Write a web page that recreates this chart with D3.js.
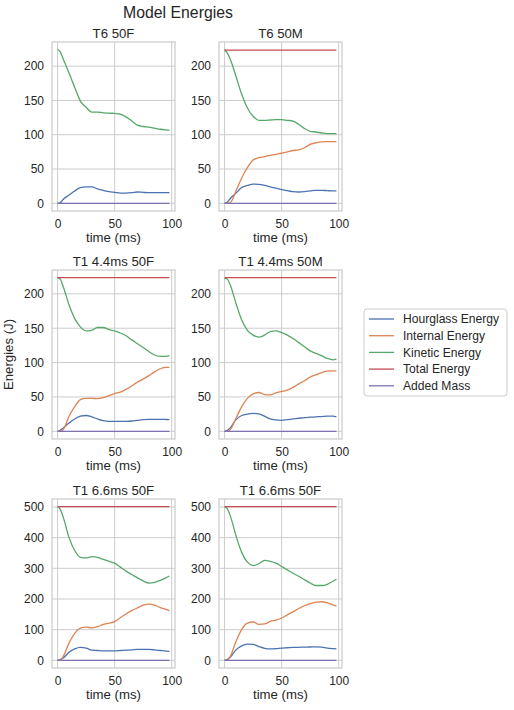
<!DOCTYPE html>
<html>
<head>
<meta charset="utf-8">
<script src="https://cdn.jsdelivr.net/npm/d3@7"></script>
<style>
  body { margin: 0; background: #fff; }
  text { font-family: "Liberation Sans", Arial, sans-serif; fill: #262626; }
</style>
</head>
<body>
<div id="chart"></div>
<script>
// sample times (ms), shared by every run
const time = [0, 2, 5, 10, 15, 20, 25, 30, 35, 40, 45, 50, 55, 60, 65, 70, 75, 80, 85, 90, 95, 98];

const seriesNames = ["Hourglass Energy", "Internal Energy", "Kinetic Energy", "Total Energy", "Added Mass"];
const seriesColors = ["#4c72b0", "#dd8452", "#55a868", "#c44e52", "#8172b3"];

const panelTitles = ["T6 50F", "T6 50M", "T1 4.4ms 50F", "T1 4.4ms 50M", "T1 6.6ms 50F", "T1 6.6ms 50F"];

const xTicks = [0, 50, 100];
const yTicksLow = [0, 50, 100, 150, 200];
const yTicksHigh = [0, 100, 200, 300, 400, 500];

// T6 50F (no internal / total energy recorded)
const t6f_hourglass = [0, 0.5, 6, 12, 18, 23, 24, 24, 21, 19, 17, 16, 15, 15, 15.5, 16.5, 16, 15.5, 15.5, 15.5, 15.5, 15.5];
const t6f_internal = null;
const t6f_kinetic = [224, 222, 210, 190, 169, 149, 140, 133, 133, 132, 131.5, 131, 130, 126, 120, 114, 112, 111, 109.5, 108, 107, 106.5];
const t6f_total = null;
const t6f_added = time.map(() => 0);

// T6 50M
const t6m_hourglass = [0, 1, 7, 15, 23, 26, 28, 27.5, 26, 24, 22, 20, 18.5, 17, 16.5, 17, 18, 19, 19, 18.5, 18, 18];
const t6m_internal = [0, 0, 1, 18, 37, 52, 63, 66.5, 68, 70, 71.5, 73, 75, 77, 78, 81, 86, 88, 89.5, 90, 90, 90];
const t6m_kinetic = [224, 220, 210, 185, 159, 139, 127, 121, 121, 121.5, 122, 122, 121, 120, 115, 109, 105, 104, 102.5, 101.5, 101.5, 101.5];
const t6m_total = time.map(() => 223.5);
const t6m_added = time.map(() => 0);

// T1 4.4ms 50F
const t144f_hourglass = [0, 1, 5, 12, 18, 22, 23, 21, 18, 15.5, 14.5, 14.5, 14.5, 14.5, 15, 16, 17, 17.5, 17.5, 17.5, 17.2, 17];
const t144f_internal = [0, 0, 2.5, 22, 36, 46, 48, 48, 47.5, 49, 52, 55, 57, 61, 66, 71.5, 76, 81, 86.5, 91, 93, 93];
const t144f_kinetic = [223, 222, 210, 184, 164, 152, 146, 147, 151, 151, 148, 146, 143, 139, 133, 127.5, 122, 116, 111, 109, 109, 110];
const t144f_total = time.map(() => 223.5);
const t144f_added = time.map(() => 0);

// T1 4.4ms 50M
const t144m_hourglass = [0, 1, 5, 17, 23, 25, 26, 25.5, 22, 18, 16.5, 16, 17, 18, 19, 20, 20.5, 21, 21.5, 22, 22, 21];
const t144m_internal = [0, 0, 2.5, 19, 36, 48, 54.5, 56.5, 53.5, 53, 56, 58, 60, 64, 69, 73.5, 79, 82, 85.5, 87.5, 88, 88];
const t144m_kinetic = [223, 222, 213, 186, 162, 147, 140, 137, 140, 145, 146, 143.5, 140, 135, 129, 123, 117, 113.5, 110, 106, 104, 105];
const t144m_total = time.map(() => 223.5);
const t144m_added = time.map(() => 0);

// T1 6.6ms 50F (first)
const t166a_hourglass = [0, 2, 7.5, 26, 37, 42, 40, 33, 32, 31, 31, 31, 32, 33, 34, 35.5, 35.5, 35.5, 34, 32, 30, 29];
const t166a_internal = [0, 0, 13, 56, 88, 105, 108, 106, 110, 117, 121, 126, 139, 151, 162, 171, 180, 183, 180, 172, 166, 162];
const t166a_kinetic = [500, 495, 466, 401, 358, 336, 334, 338, 336, 329, 323, 317, 304, 291, 280, 269, 259, 252, 254, 261, 269, 275];
const t166a_total = time.map(() => 501);
const t166a_added = time.map(() => 0);

// T1 6.6ms 50F (second)
const t166b_hourglass = [0, 2, 10, 34, 47, 53, 52, 45, 39, 37, 38, 40, 41, 42, 42.5, 43, 43.5, 44, 43, 40, 38, 37];
const t166b_internal = [0, 0, 13, 61, 101, 121, 125, 117, 118.5, 127, 131, 138, 148, 158, 169, 178, 185, 190, 191, 187.5, 181, 177];
const t166b_kinetic = [500, 496, 471, 406, 352, 320, 309, 315, 326, 323, 317, 306, 295, 284, 274, 263, 252, 244, 244, 248, 258, 264];
const t166b_total = time.map(() => 501);
const t166b_added = time.map(() => 0);

const panelSeries = [
  [t6f_hourglass, t6f_internal, t6f_kinetic, t6f_total, t6f_added],
  [t6m_hourglass, t6m_internal, t6m_kinetic, t6m_total, t6m_added],
  [t144f_hourglass, t144f_internal, t144f_kinetic, t144f_total, t144f_added],
  [t144m_hourglass, t144m_internal, t144m_kinetic, t144m_total, t144m_added],
  [t166a_hourglass, t166a_internal, t166a_kinetic, t166a_total, t166a_added],
  [t166b_hourglass, t166b_internal, t166b_kinetic, t166b_total, t166b_added]
];
const panelYTicks = [yTicksLow, yTicksLow, yTicksLow, yTicksLow, yTicksHigh, yTicksHigh];

const width = 514;
const height = 710;
const colX = [52, 219];
const rowY = [42, 270, 499];
const aw = 123;
const ah = 169;

const svg = d3.select("#chart").append("svg")
  .attr("width", width).attr("height", height);
svg.append("rect").attr("width", width).attr("height", height).attr("fill", "#fff");

// matplotlib style 5% margins around the data
function padded(lo, hi) {
  const m = (hi - lo) * 0.05;
  return [lo - m, hi + m];
}

const x = d3.scaleLinear()
  .domain(padded(d3.min(time), d3.max(time)))
  .range([0, aw]);

panelSeries.forEach((series, i) => {
  const left = colX[i % 2];
  const top = rowY[Math.floor(i / 2)];
  const present = series.filter(s => s);
  const y = d3.scaleLinear()
    .domain(padded(d3.min(present, s => d3.min(s)), d3.max(present, s => d3.max(s))))
    .range([ah, 0]);

  const g = svg.append("g").attr("transform", `translate(${left},${top})`);

  // grid
  g.selectAll(".gx").data(xTicks).join("line")
    .attr("x1", d => x(d)).attr("x2", d => x(d))
    .attr("y1", 0).attr("y2", ah)
    .attr("stroke", "#cccccc").attr("stroke-width", 1);
  g.selectAll(".gy").data(panelYTicks[i]).join("line")
    .attr("x1", 0).attr("x2", aw)
    .attr("y1", d => y(d)).attr("y2", d => y(d))
    .attr("stroke", "#cccccc").attr("stroke-width", 1);

  const line = d3.line()
    .x((d, k) => x(time[k]))
    .y(d => y(d))
    .curve(d3.curveMonotoneX);

  series.forEach((s, k) => {
    if (!s) return;
    g.append("path")
      .attr("d", line(s))
      .attr("fill", "none")
      .attr("stroke", seriesColors[k])
      .attr("stroke-width", 1.3);
  });

  // frame
  g.append("rect")
    .attr("width", aw).attr("height", ah)
    .attr("fill", "none").attr("stroke", "#cccccc").attr("stroke-width", 1.25);

  const ya = g.append("g")
    .call(d3.axisLeft(y).tickValues(panelYTicks[i]).tickSize(0).tickPadding(8));
  const xa = g.append("g").attr("transform", `translate(0,${ah})`)
    .call(d3.axisBottom(x).tickValues(xTicks).tickSize(0).tickPadding(8));
  [ya, xa].forEach(a => {
    a.select(".domain").remove();
    a.selectAll("text").attr("font-size", 12)
      .attr("font-family", "Liberation Sans, Arial, sans-serif").attr("fill", "#262626");
  });

  g.append("text")
    .attr("x", aw / 2).attr("y", -4.5)
    .attr("text-anchor", "middle").attr("font-size", 13.2)
    .text(panelTitles[i]);

  g.append("text")
    .attr("x", aw / 2).attr("y", ah + 30.5)
    .attr("text-anchor", "middle").attr("font-size", 13.2)
    .text("time (ms)");

  if (i === 2) {
    g.append("text")
      .attr("transform", `translate(${-39},${ah / 2}) rotate(-90)`)
      .attr("text-anchor", "middle").attr("font-size", 13.2)
      .text("Energies (J)");
  }
});

svg.append("text")
  .attr("x", 178).attr("y", 17.5)
  .attr("text-anchor", "middle").attr("font-size", 15.8)
  .text("Model Energies");

// legend
const legend = svg.append("g").attr("transform", "translate(364,309)");
legend.append("rect")
  .attr("width", 143).attr("height", 87).attr("rx", 3)
  .attr("fill", "#fff").attr("stroke", "#cccccc").attr("stroke-width", 1);
seriesNames.forEach((name, k) => {
  const yy = 10 + k * 16.7;
  legend.append("line")
    .attr("x1", 5).attr("x2", 30).attr("y1", yy).attr("y2", yy)
    .attr("stroke", seriesColors[k]).attr("stroke-width", 1.3);
  legend.append("text")
    .attr("x", 39).attr("y", yy + 4.3)
    .attr("font-size", 12.1)
    .text(name);
});
</script>
</body>
</html>
